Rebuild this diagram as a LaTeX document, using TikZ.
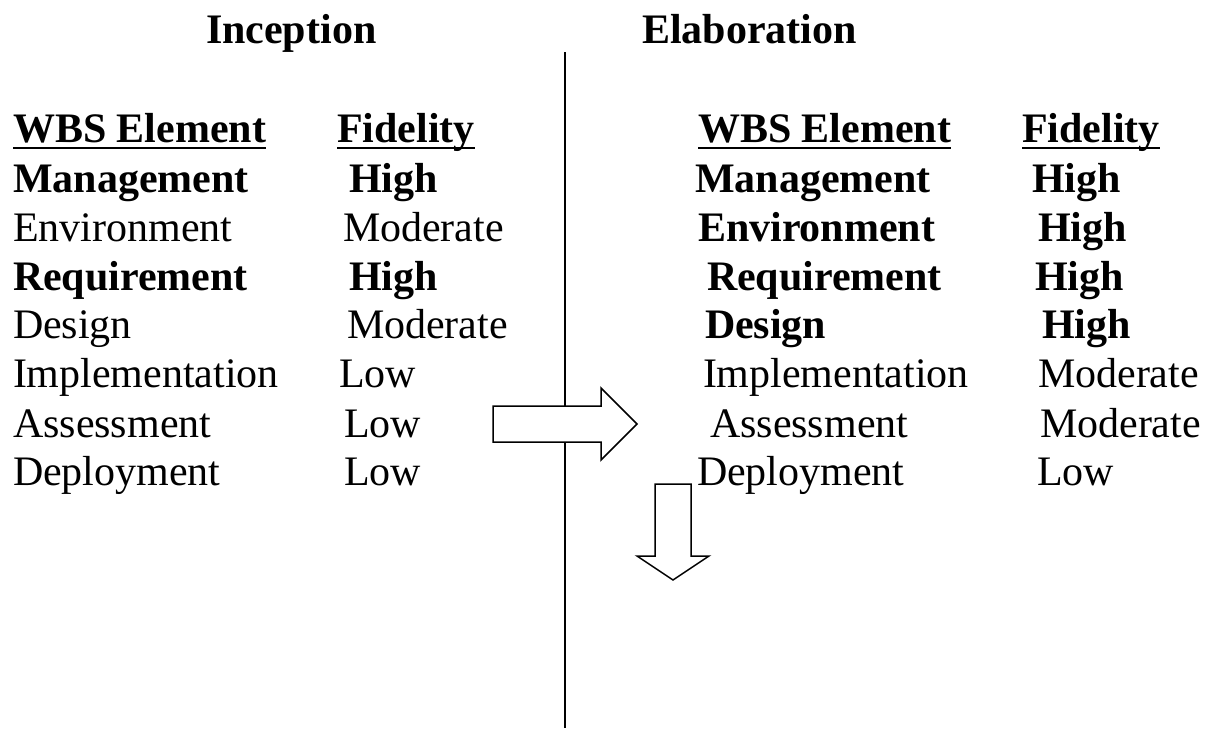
\documentclass[tikz,border=0pt]{standalone}
\usepackage{fontspec}
\setmainfont{Liberation Serif}
\begin{document}
\begin{tikzpicture}[x=1pt,y=-1pt,
  txt/.style={inner sep=0pt,outer sep=0pt,anchor=base west,font=\fontsize{42}{48}\selectfont},
  btxt/.style={txt,font=\fontsize{42}{48}\selectfont\bfseries},
  uline/.style={line width=2.8pt},
  divider/.style={line width=1.8pt},
  blockarrow/.style={draw=black,fill=white,line width=1.5pt,line join=miter}]
\useasboundingbox (0,0) rectangle (1212,728);

% phase divider
\coordinate (divTop) at (565,52);
\coordinate (divBot) at (565,728);
\draw[divider] (divTop) -- (divBot);

% phase titles
\node[btxt] (tInc) at (206,43) {Inception};
\node[btxt] (tEla) at (642,43) {Elaboration};

% Inception table
\node[btxt] (hLw) at (13,142) {WBS Element};
\node[btxt] (hLf) at (337,142) {Fidelity};
\node[btxt] (l1w) at (13,192) {Management};
\node[btxt] (l1f) at (349,192) {High};
\node[txt]  (l2w) at (13,241) {Environment};
\node[txt]  (l2f) at (343,241) {Moderate};
\node[btxt] (l3w) at (13,290) {Requirement};
\node[btxt] (l3f) at (349,290) {High};
\node[txt]  (l4w) at (13,338) {Design};
\node[txt]  (l4f) at (347,338) {Moderate};
\node[txt]  (l5w) at (13,387) {Implementation};
\node[txt]  (l5f) at (339,387) {Low};
\node[txt]  (l6w) at (13,437) {Assessment};
\node[txt]  (l6f) at (344,437) {Low};
\node[txt]  (l7w) at (13,485) {Deployment};
\node[txt]  (l7f) at (344,485) {Low};

% Elaboration table
\node[btxt] (hRw) at (698,142) {WBS Element};
\node[btxt] (hRf) at (1022,142) {Fidelity};
\node[btxt] (r1w) at (695,192) {Management};
\node[btxt] (r1f) at (1032,192) {High};
\node[btxt] (r2w) at (698,241) {Environment};
\node[btxt] (r2f) at (1038,241) {High};
\node[btxt] (r3w) at (707,290) {Requirement};
\node[btxt] (r3f) at (1035,290) {High};
\node[btxt] (r4w) at (705,338) {Design};
\node[btxt] (r4f) at (1042,338) {High};
\node[txt]  (r5w) at (703,387) {Implementation};
\node[txt]  (r5f) at (1038,387) {Moderate};
\node[txt]  (r6w) at (710,437) {Assessment};
\node[txt]  (r6f) at (1040,437) {Moderate};
\node[txt]  (r7w) at (697,485) {Deployment};
\node[txt]  (r7f) at (1037,485) {Low};

% header underlines
\foreach \h in {hLw,hLf,hRw,hRf}
  \draw[uline] ([yshift=-6pt]\h.base west) -- ([yshift=-6pt]\h.base east);

% block arrow to the next phase
\draw[blockarrow] (493,406) -- (601,406) -- (601,388) -- (637,424)
  -- (601,460) -- (601,442) -- (493,442) -- cycle;

% block arrow pointing down
\draw[blockarrow] (655,484) -- (691,484) -- (691,556) -- (709,556)
  -- (673,580) -- (637,556) -- (655,556) -- cycle;
\end{tikzpicture}
\end{document}
